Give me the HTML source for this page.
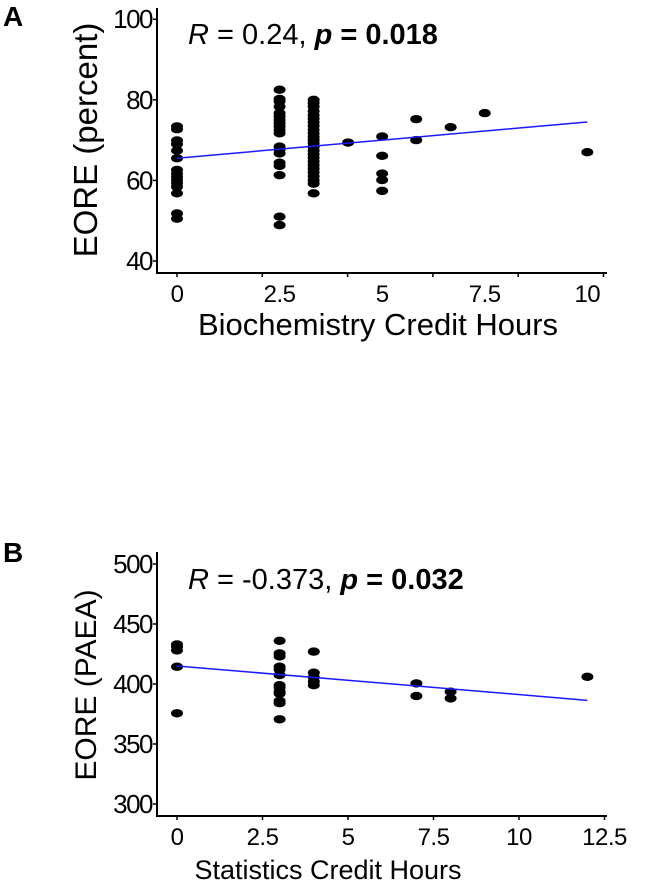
<!DOCTYPE html>
<html><head><meta charset="utf-8"><style>
html,body{margin:0;padding:0;background:#fff;}
svg{display:block;font-family:"Liberation Sans",Arial,sans-serif;}
</style></head><body>
<svg id="fig" width="646" height="885" viewBox="0 0 646 885" xmlns="http://www.w3.org/2000/svg">
<text x="3" y="26" font-size="28" font-weight="bold">A</text>
<text x="3" y="562" font-size="28" font-weight="bold">B</text>
<g id="pa"></g>
<g id="pb"></g>
</svg>
<script>
// Panel A data
const aX = [0,0,0,0,0,0,0,0,0,0,0,0,0,0,0,
 2.5,2.5,2.5,2.5,2.5,2.5,2.5,2.5,2.5,2.5,2.5,2.5,2.5,2.5,2.5,2.5,2.5,2.5,2.5,
 3.33,3.33,3.33,3.33,3.33,3.33,3.33,3.33,3.33,3.33,3.33,3.33,3.33,3.33,3.33,3.33,3.33,3.33,3.33,3.33,3.33,3.33,3.33,3.33,3.33,
 4.17,5,5,5,5,5,5.83,5.83,6.67,7.5,10];
const aY = [73.4,72.7,69.9,69.0,67.4,65.5,62.6,61.7,60.9,60.1,59.3,58.4,56.8,51.8,50.5,
 82.5,80.2,79.6,78.3,76.7,75.9,75.0,74.2,73.4,72.5,71.7,68.4,67.6,66.7,64.4,63.6,61.3,51.0,48.9,
 80,79.2,78.3,77.2,76.2,75.3,74.4,73.5,72.6,71.7,70.8,70,69.2,68.3,67.4,66.5,65.6,64.7,63.8,62.9,62,61,60,59.2,56.8,
 69.4,70.9,66.1,61.7,60.1,57.4,75.2,70.0,73.2,76.7,67];
const aFit = [65.5,74.5];
const aYTicks = [40,60,80,100];
const aXTickLabels = [0,2.5,5,7.5,10];
// Panel B data
const bX = [0,0,0,0,0, 3,3,3,3,3,3,3,3,3,3,3,3,3, 4,4,4,4,4, 7,7, 8,8, 12];
const bY = [433,431,428,414.4,375.6, 436,425.5,423,414.4,412,407.5,399,397,393.6,392,386,384,370.6,
 427,409.4,405.5,402,399, 400.5,390, 393.6,388, 406];
const bFit = [415,386.4];
const bYTicks = [300,350,400,450,500];
const bXTickLabels = [0,2.5,5,7.5,10,12.5];

const NS="http://www.w3.org/2000/svg";
function mk(parent,tag,attrs,txt){const e=document.createElementNS(NS,tag);for(const k in attrs)e.setAttribute(k,attrs[k]);if(txt!==undefined)e.textContent=txt;parent.appendChild(e);return e;}

function panel(g,cfg){
  const sx=v=>cfg.x0+v*cfg.kx, sy=v=>cfg.y0-(v-cfg.ymin)*cfg.ky;
  let e;
  e=mk(g,'line',{x1:cfg.ax,y1:cfg.top,x2:cfg.ax,y2:cfg.ay+1,stroke:'#000','stroke-width':2});
  
  
  e=mk(g,'line',{x1:cfg.ax-1,y1:cfg.ay,x2:cfg.right,y2:cfg.ay,stroke:'#000','stroke-width':2});
  
  
  cfg.yt.forEach(v=>{
    e=mk(g,'line',{x1:cfg.ax-4,y1:sy(v),x2:cfg.ax,y2:sy(v),stroke:'#000','stroke-width':1.5});
    
    
    e=mk(g,'text',{x:cfg.ax-5,y:sy(v)+9,'font-size':26,'text-anchor':'end','letter-spacing':'-1.5'},v);
    
    
  });
  cfg.tickPos.forEach(p=>{
    e=mk(g,'line',{x1:p,y1:cfg.ay,x2:p,y2:cfg.ay+4,stroke:'#000','stroke-width':1.5});
    
    
  });
  cfg.xt.forEach(v=>{
    e=mk(g,'text',{x:sx(v),y:cfg.ay+29,'font-size':24,'text-anchor':'middle','letter-spacing':'-0.5'},v);
    
    
  });
  e=mk(g,'text',{x:cfg.xtX,y:cfg.ay+cfg.xtDy,'font-size':cfg.xtFs,'text-anchor':'middle'},cfg.xtitle);
  
  
  const cy=cfg.ytY;
  e=mk(g,'text',{x:0,y:0,'font-size':cfg.ytFs,'text-anchor':'middle',transform:`translate(${cfg.ytX},${cy}) rotate(-90)`},cfg.ytitle);
  
  
  cfg.xs.forEach((x,i)=>{
    e=mk(g,'ellipse',{cx:sx(x),cy:sy(cfg.ys[i]),rx:6,ry:4.2,fill:'#000'});
    
    
  });
  e=mk(g,'line',{x1:sx(cfg.fx[0]),y1:sy(cfg.fit[0]),x2:sx(cfg.fx[1]),y2:sy(cfg.fit[1]),stroke:'#1a1aff','stroke-width':1.5});
  
  
  const t=mk(g,'text',{x:cfg.ax+31,y:cfg.annY,'font-size':29});
  
  
  mk(t,'tspan',{'font-style':'italic'},'R');
  mk(t,'tspan',{},' = '+cfg.r+', ');
  mk(t,'tspan',{'font-style':'italic','font-weight':'bold'},'p');
  mk(t,'tspan',{'font-weight':'bold'},' = '+cfg.p);
}
const tA=[];for(let i=0;i<6;i++)tA.push(177+i*85.3);
panel(document.getElementById('pa'),{x0:177,kx:41.03,y0:261,ymin:40,ky:4.03,ax:157,ay:273,top:8,right:607,
 yt:aYTicks,xt:aXTickLabels,tickPos:tA,xs:aX,ys:aY,fx:[0,10],fit:aFit,
 xtitle:'Biochemistry Credit Hours',xtX:378,xtDy:62,xtFs:31,ytitle:'EORE (percent)',ytX:97,ytY:140,ytFs:33,annY:44,r:'0.24',p:'0.018'});
const tB=[];for(let i=0;i<6;i++)tB.push(177+i*85.5);
panel(document.getElementById('pb'),{x0:177,kx:34.2,y0:804,ymin:300,ky:1.2,ax:157,ay:816,top:552,right:607,
 yt:bYTicks,xt:bXTickLabels,tickPos:tB,xs:bX,ys:bY,fx:[0,12],fit:bFit,
 xtitle:'Statistics Credit Hours',xtX:328,xtDy:63,xtFs:27,ytitle:'EORE (PAEA)',ytX:96,ytY:685,ytFs:30,annY:589,r:'-0.373',p:'0.032'});
</script>
</body></html>
